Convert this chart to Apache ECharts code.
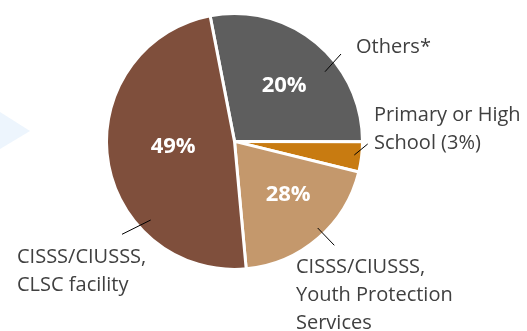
<!DOCTYPE html>
<html>
<head>
<meta charset="utf-8">
<script src="https://cdn.jsdelivr.net/npm/echarts@6/dist/echarts.min.js"></script>
<style>
html,body{margin:0;padding:0;background:#fff;}
#chart{width:527px;height:331px;}
</style>
</head>
<body>
<div id="chart"></div>
<script>
// ---- data ----
var categories = ['Others*', 'Primary or High School', 'CISSS/CIUSSS, Youth Protection Services', 'CISSS/CIUSSS, CLSC facility'];
var values = [28.1, 3.8, 19.7, 48.4];            // slice sizes as drawn
var insideLabels = ['20%', '', '28%', '49%'];     // percentages printed inside slices
var outsideLabels = ['Others*', 'Primary or High\nSchool (3%)', 'CISSS/CIUSSS,\nYouth Protection\nServices', 'CISSS/CIUSSS,\nCLSC facility'];
var colors = ['#5e5e5e', '#c87b11', '#c4986c', '#7f4f3c'];

// ---- layout (annotation placement only) ----
var outerLayout = [
  {x: 356, y: 33,  line: [[325, 71.7], [341, 54]]},
  {x: 374, y: 101, line: [[354.3, 155], [367.7, 144]]},
  {x: 296, y: 253, line: [[317.7, 228], [334.3, 245.3]]},
  {x: 17,  y: 243, line: [[150.7, 220], [122, 234.3]]}
];
var innerOffset = [[7, -4], [0, 0], [10, 3], [5, -4]];

var chart = echarts.init(document.getElementById('chart'), null, {renderer: 'canvas'});

var mainData = categories.map(function (c, i) {
  return {name: c, value: values[i], itemStyle: {color: colors[i]}};
});
var ghostData = categories.map(function (c, i) {
  return {name: c, value: values[i], itemStyle: {color: 'rgba(0,0,0,0)', borderWidth: 0}};
});

var option = {
  animation: false,
  backgroundColor: '#ffffff',
  graphic: [{
    type: 'polygon',
    shape: {points: [[0, 112], [30, 131], [0, 149]]},
    style: {fill: '#edf5fd'},
    silent: true
  }],
  series: [
    {
      type: 'pie',
      center: [234.5, 141.4],
      radius: [0, 128],
      startAngle: 101,
      clockwise: true,
      avoidLabelOverlap: false,
      silent: true,
      itemStyle: {borderColor: '#ffffff', borderWidth: 3},
      label: {
        show: true,
        position: 'inside',
        color: '#ffffff',
        fontFamily: 'Open Sans',
        fontWeight: 'bold',
        fontSize: 22,
        formatter: function (p) { return insideLabels[p.dataIndex]; }
      },
      labelLine: {show: false},
      labelLayout: function (p) {
        var o = innerOffset[p.dataIndex];
        return {dx: o[0], dy: o[1]};
      },
      data: mainData
    },
    {
      type: 'pie',
      center: [234.5, 141.4],
      radius: [0, 115],
      startAngle: 101,
      clockwise: true,
      avoidLabelOverlap: false,
      silent: true,
      z: 5,
      label: {
        show: true,
        position: 'outside',
        color: '#404040',
        fontFamily: 'Open Sans',
        fontSize: 20,
        lineHeight: 28,
        formatter: function (p) { return outsideLabels[p.dataIndex]; }
      },
      labelLine: {show: true, length: 20, length2: 0, lineStyle: {color: '#000000', width: 1}},
      labelLayout: function (p) {
        var l = outerLayout[p.dataIndex];
        return {x: l.x, y: l.y, align: 'left', verticalAlign: 'top', labelLinePoints: l.line};
      },
      data: ghostData
    }
  ]
};
chart.setOption(option);
</script>
</body>
</html>
